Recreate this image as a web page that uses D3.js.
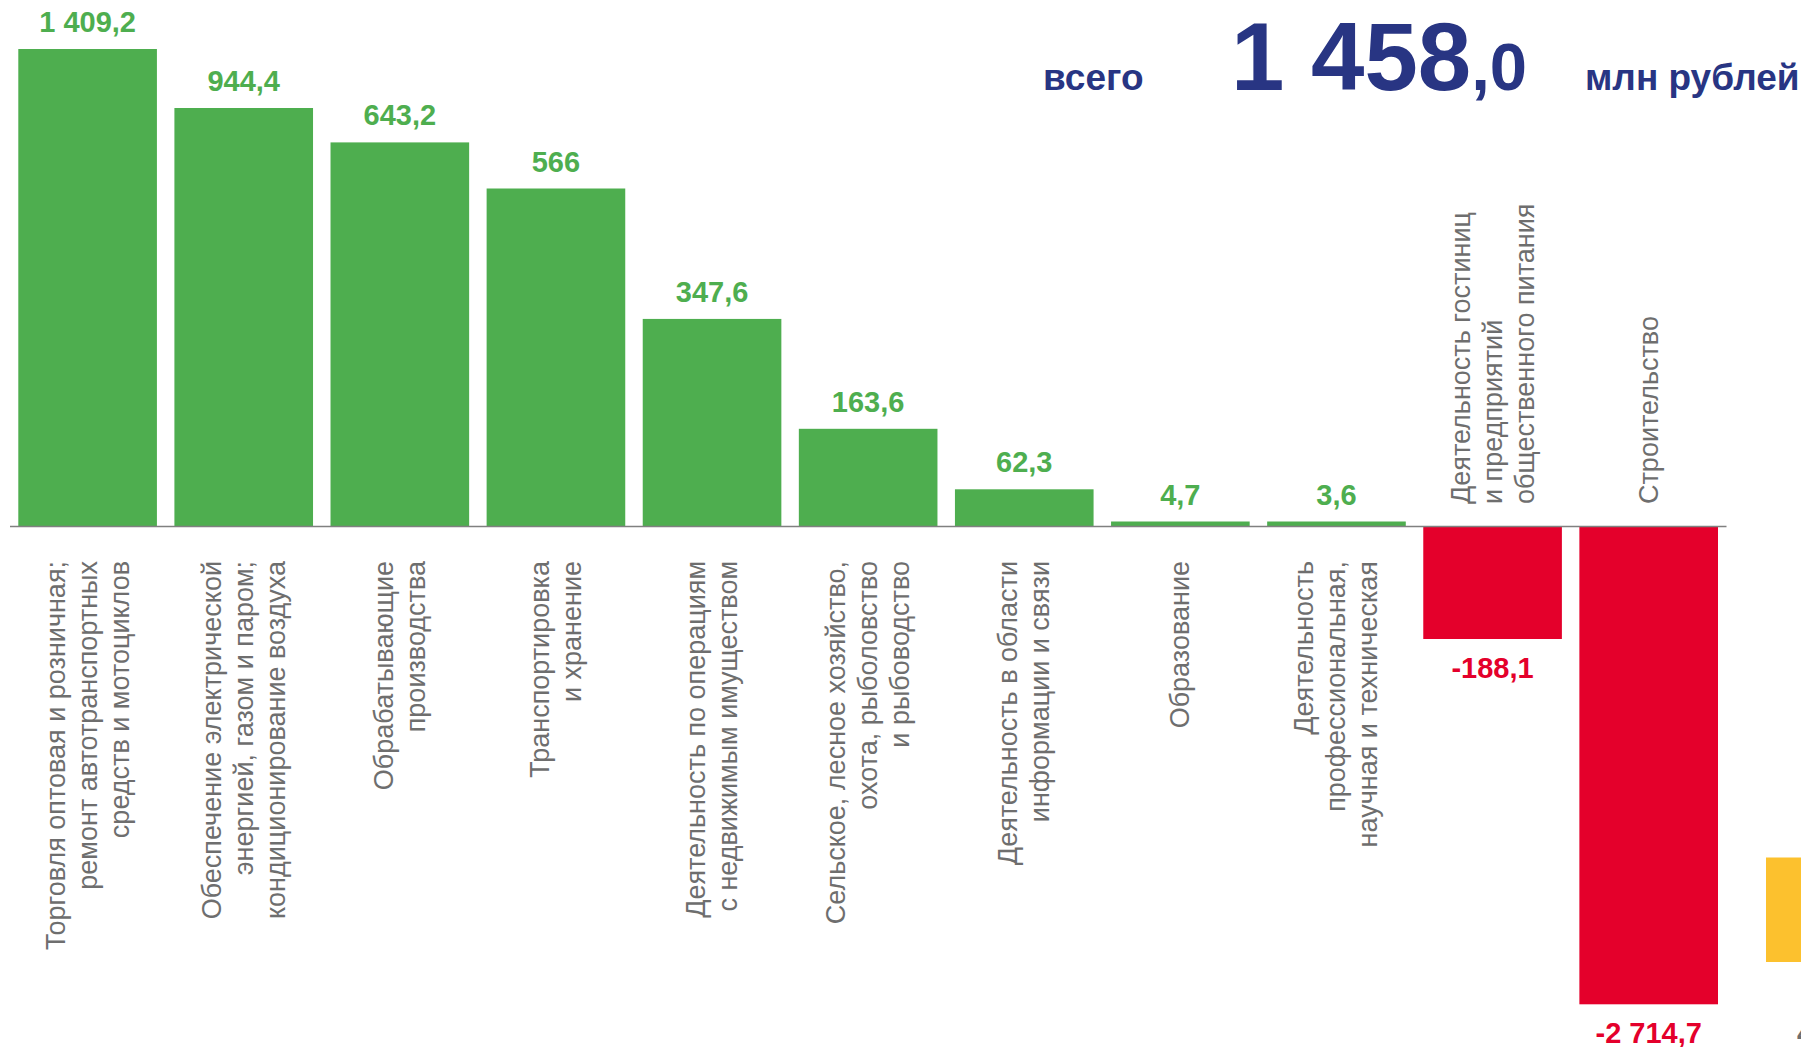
<!DOCTYPE html>
<html>
<head>
    <meta charset="utf-8">
    <title>Сальдированный финансовый результат по видам деятельности</title>
    <script src="https://cdn.jsdelivr.net/npm/d3@7"></script>
    <style>
    body { margin: 0; background: #fff; }
    svg { display: block; font-family: "Liberation Sans", Arial, sans-serif; }
    .cat { fill: #6e6e6e; font-size: 27px; }
    .val { font-size: 29px; font-weight: bold; text-anchor: middle; }
    .total { fill: #283583; font-weight: bold; }
    .axis-line { stroke: #808080; stroke-width: 1.5px; }
    </style>
</head>
<body>
<script>

// categories (line breaks as in the original labels)
var categories = [
    ["Торговля оптовая и розничная;", "ремонт автотранспортных", "средств и мотоциклов"],
    ["Обеспечение электрической", "энергией, газом  и паром;", "кондиционирование воздуха"],
    ["Обрабатывающие", "производства"],
    ["Транспортировка", "и хранение"],
    ["Деятельность по операциям", "с недвижимым имуществом"],
    ["Сельское, лесное хозяйство,", "охота, рыболовство", "и рыбоводство"],
    ["Деятельность в области", "информации и связи"],
    ["Образование"],
    ["Деятельность", "профессиональная,", "научная и техническая"],
    ["Деятельность гостиниц", "и предприятий", "общественного питания"],
    ["Строительство"]
];
var values = [1409.2, 944.4, 643.2, 566, 347.6, 163.6, 62.3, 4.7, 3.6, -188.1, -2714.7];
var valueLabels = ["1 409,2", "944,4", "643,2", "566", "347,6", "163,6", "62,3", "4,7", "3,6", "-188,1", "-2 714,7"];
var totalValue = "1 458";
var totalDecimal = ",0";

(function() {

    var width = 1801, height = 1047;
    var green = "#4eae4f", red = "#e4002b", yellow = "#fcc12e";

    var svg = d3.select("body").append("svg")
        .attr("width", width)
        .attr("height", height);

    var x = d3.scaleBand()
        .domain(d3.range(values.length))
        .range([18.3, 1718])
        .paddingInner(0.112)
        .paddingOuter(0);

    // the value axis in the original is broken: ~0.6 px per unit in the middle,
    // the three largest bars are shortened
    var y = d3.scaleLinear()
        .domain([-2714.7, -188.1, 0, 643.2, 944.4, 1409.2])
        .range([1004.3, 639, 526.5, 142.4, 108, 49]);

    var y0 = y(0);

    // bars (tiny ones kept visible)
    svg.selectAll("rect.bar")
        .data(values)
        .enter().append("rect")
        .attr("class", "bar")
        .attr("x", function(d, i) { return x(i); })
        .attr("width", x.bandwidth())
        .attr("y", function(d) { return d >= 0 ? Math.min(y(d), y0 - 5) : y0; })
        .attr("height", function(d) { return Math.max(Math.abs(y(d) - y0), 5); })
        .attr("fill", function(d) { return d >= 0 ? green : red; });

    // zero line
    svg.append("line")
        .attr("class", "axis-line")
        .attr("x1", 10).attr("x2", 1726.5)
        .attr("y1", y0).attr("y2", y0);

    // value labels
    svg.selectAll("text.val")
        .data(values)
        .enter().append("text")
        .attr("class", "val")
        .attr("x", function(d, i) { return x(i) + x.bandwidth() / 2; })
        .attr("y", function(d) { return d >= 0 ? Math.min(y(d), y0 - 5) - 17 : y(d) + 39; })
        .attr("fill", function(d) { return d >= 0 ? green : red; })
        .text(function(d, i) { return valueLabels[i]; });

    // category labels, rotated; below the axis for positive bars, above for negative
    var lh = 32;
    var cat = svg.selectAll("text.cat")
        .data(categories)
        .enter().append("text")
        .attr("class", "cat")
        .attr("text-anchor", function(d, i) { return values[i] >= 0 ? "end" : "start"; })
        .attr("transform", function(d, i) {
            var cx = x(i) + x.bandwidth() / 2;
            var cy = values[i] >= 0 ? 561 : 504;
            return "translate(" + cx + "," + cy + ") rotate(-90)";
        });

    cat.selectAll("tspan")
        .data(function(d) { return d.map(function(s, j) { return {s: s, j: j, n: d.length}; }); })
        .enter().append("tspan")
        .attr("x", 0)
        .attr("y", function(d) { return (d.j - (d.n - 1) / 2) * lh + 9; })
        .text(function(d) { return d.s; });

    // total
    svg.append("text")
        .attr("class", "total")
        .attr("x", 1043).attr("y", 89.6)
        .style("font-size", "37px")
        .text("всего");

    var t = svg.append("text")
        .attr("class", "total")
        .attr("x", 1231).attr("y", 89.6)
        .style("font-size", "96px")
        .text(totalValue);
    t.append("tspan")
        .style("font-size", "67px")
        .text(totalDecimal);

    svg.append("text")
        .attr("class", "total")
        .attr("x", 1585).attr("y", 89.6)
        .style("font-size", "37px")
        .text("млн рублей");

    // edge of the next (cut off) chart at the right border
    svg.append("rect")
        .attr("x", 1766).attr("y", 857.5)
        .attr("width", 40).attr("height", 104.5)
        .attr("fill", yellow);
    svg.append("text")
        .attr("x", 1797).attr("y", 1043)
        .attr("fill", "#6e6e6e")
        .style("font-size", "29px")
        .style("font-weight", "bold")
        .text("4");

}).call(this);

</script>
</body>
</html>
